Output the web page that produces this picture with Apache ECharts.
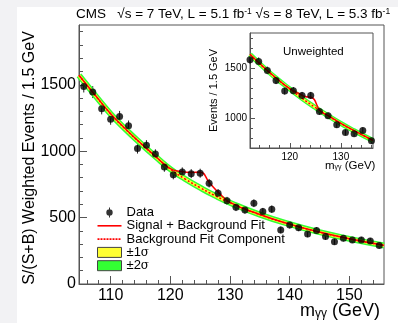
<!DOCTYPE html>
<html>
<head>
<meta charset="utf-8">
<script src="https://cdn.jsdelivr.net/npm/echarts@6/dist/echarts.min.js"></script>
<style>
  html, body { margin: 0; padding: 0; background: #f2f2f4; }
  #paper { position: absolute; left: 17px; top: 7px; right: 0; bottom: 0; background: #fff; }
  #chart { position: absolute; left: 0; top: 0; width: 398px; height: 323px; }
</style>
</head>
<body>
<div id="paper"></div>
<div id="chart"></div>
<script>
// main plot: S/(S+B) weighted data, 1.5 GeV bins
const mainMass = [105.5, 107, 108.5, 110, 111.5, 113, 114.5, 116, 117.5, 119, 120.5, 122, 123.5, 125, 126.5, 128, 129.5,
  131, 132.5, 134, 135.5, 137, 138.5, 140, 141.5, 143, 144.5, 146, 147.5, 149, 150.5, 152, 153.5, 155];
const mainEvents = [1487, 1445, 1319, 1241, 1261, 1191, 1020, 1045, 978, 880, 822, 844, 831, 834, 759, 684, 626,
  578, 558, 608, 545, 563, 407, 445, 424, 377, 402, 357, 319, 344, 332, 332, 324, 289];
const mainErr = [45, 45, 42, 42, 42, 40, 38, 38, 36, 35, 34, 34, 34, 34, 32, 31, 30,
  29, 29, 29, 28, 28, 26, 27, 26, 25, 25, 24, 23, 23, 23, 23, 23, 22];

// fit curves
const bgMass = [104.7, 107.5, 110, 112.5, 115, 117.5, 120, 122.5, 125, 127.5, 130, 135, 140, 145, 150, 155.8];
const bgFit = [1570, 1415, 1280, 1165, 1060, 960, 865, 790, 725, 665, 612, 522, 450, 390, 340, 290];
const sbMass = [104.7, 107.5, 110, 112.5, 115, 117.5, 120, 121.8, 123.5, 125, 126.6, 128.1, 130, 135, 140, 145, 150, 155.8];
const sbFit = [1572, 1417, 1282, 1167, 1062, 962, 868, 847, 840, 842, 760, 688, 614, 523, 451, 391, 341, 291];

// inset: unweighted
const insetMass = [112.2, 113.9, 115.6, 117.3, 119.0, 120.7, 122.4, 124.1, 125.8, 127.5, 129.2, 130.9, 132.6, 134.3, 136.0];
const insetEvents = [1583, 1566, 1476, 1376, 1270, 1273, 1226, 1226, 1066, 1023, 933, 856, 843, 876, 773];
const insetErr = [40, 40, 38, 37, 36, 36, 35, 35, 33, 32, 31, 29, 29, 30, 28];
const insetBgMass = [112.2, 115, 117.5, 120, 122.5, 125, 127.5, 130, 132.5, 136.3];
const insetBgFit = [1635, 1500, 1390, 1290, 1193, 1105, 1022, 945, 875, 775];
const insetSbMass = [112.2, 115, 117.5, 120, 121.8, 123, 124.3, 126, 127.6, 130, 132.5, 136.3];
const insetSbFit = [1638, 1503, 1393, 1293, 1245, 1215, 1205, 1068, 1022, 947, 877, 777];

// ticks
const xMajor = [110, 120, 130, 140, 150];
const xMinor = [106, 108, 112, 114, 116, 118, 122, 124, 126, 128, 132, 134, 136, 138, 142, 144, 146, 148, 152, 154];
const yMajor = [0, 500, 1000, 1500];
const yMinor = [100, 200, 300, 400, 600, 700, 800, 900, 1100, 1200, 1300, 1400, 1600, 1700, 1800, 1900];
const insetXMajor = [120, 130];
const insetXMinor = [114, 116, 118, 122, 124, 126, 128, 132, 134, 136];
const insetYMajor = [1000, 1500];
const insetYMinor = [800, 900, 1100, 1200, 1300, 1400, 1600, 1700, 1800];

const FONT = 'Liberation Sans';
const pairs = (xs, ys) => xs.map((x, i) => [x, ys[i]]);
const triples = (xs, ys, es) => xs.map((x, i) => [x, ys[i], es[i]]);
const plain = (v) => String(v);

const chart = echarts.init(document.getElementById('chart'));

const errBar = (params, api) => {
  const x = api.value(0), y = api.value(1), e = api.value(2);
  const top = api.coord([x, y + e]);
  const bot = api.coord([x, y - e]);
  return {
    type: 'line',
    shape: { x1: top[0], y1: top[1], x2: bot[0], y2: bot[1] },
    style: { stroke: '#222', lineWidth: 1 }
  };
};

const majorX = (grid, min, max, vals, size, len) => ({
  type: 'value', gridIndex: grid, min: min, max: max, position: 'bottom',
  axisLine: { show: true, lineStyle: { color: '#555' } },
  splitLine: { show: false },
  axisTick: { show: true, inside: true, length: len, customValues: vals, lineStyle: { color: '#555' } },
  axisLabel: { customValues: vals, formatter: plain, color: '#000', fontFamily: FONT, fontSize: size, margin: 4 }
});
const minorX = (grid, min, max, vals, len) => ({
  type: 'value', gridIndex: grid, min: min, max: max, position: 'bottom',
  axisLine: { show: false }, splitLine: { show: false }, axisLabel: { show: false },
  axisTick: { show: true, inside: true, length: len, customValues: vals, lineStyle: { color: '#555' } }
});
const majorY = (grid, min, max, vals, size, len) => ({
  type: 'value', gridIndex: grid, min: min, max: max, position: 'left',
  axisLine: { show: true, lineStyle: { color: '#555' } },
  splitLine: { show: false },
  axisTick: { show: true, inside: true, length: len, customValues: vals, lineStyle: { color: '#555' } },
  axisLabel: { customValues: vals, formatter: plain, color: '#000', fontFamily: FONT, fontSize: size, margin: 3 }
});
const minorY = (grid, min, max, vals, len) => ({
  type: 'value', gridIndex: grid, min: min, max: max, position: 'left',
  axisLine: { show: false }, splitLine: { show: false }, axisLabel: { show: false },
  axisTick: { show: true, inside: true, length: len, customValues: vals, lineStyle: { color: '#555' } }
});

const y2 = majorY(1, 700, 1850, insetYMajor, 10, 5);
y2.name = 'Events / 1.5 GeV';
y2.nameLocation = 'middle';
y2.nameGap = 31;
y2.nameTextStyle = { fontFamily: FONT, fontSize: 11, color: '#000' };

const line = (name, xs, ys, grid, color, width, type) => ({
  name: name, type: 'line', xAxisIndex: grid, yAxisIndex: grid,
  data: pairs(xs, ys), smooth: true, symbol: 'none', silent: true,
  lineStyle: { color: color, width: width, type: type || 'solid' }
});

const ICON_BOX = 'M0,0 M24,10 ';
const option = {
  animation: false,
  grid: [
    { left: 79, top: 25, width: 305, height: 259, show: true, borderColor: '#555', borderWidth: 1, backgroundColor: 'transparent', outerBoundsMode: 'none' },
    { left: 250, top: 33, width: 123, height: 115, show: true, borderColor: '#555', borderWidth: 1, backgroundColor: '#fff', outerBoundsMode: 'none' }
  ],
  xAxis: [
    majorX(0, 104.7, 155.8, xMajor, 16, 8),
    minorX(0, 104.7, 155.8, xMinor, 4),
    majorX(1, 112.2, 136.3, insetXMajor, 10, 5),
    minorX(1, 112.2, 136.3, insetXMinor, 3)
  ],
  yAxis: [
    majorY(0, 0, 1950, yMajor, 16, 8),
    minorY(0, 0, 1950, yMinor, 4),
    y2,
    minorY(1, 700, 1850, insetYMinor, 3)
  ],
  legend: {
    orient: 'vertical', left: 92, top: 201, itemWidth: 24, itemHeight: 10, itemGap: 0.3,
    selectedMode: false,
    textStyle: { fontFamily: FONT, fontSize: 13, color: '#000', lineHeight: 13,
      rich: { s: { fontFamily: 'DejaVu Serif', fontSize: 12, lineHeight: 13 } } },
    formatter: (name) => name.replace('σ', '{s|σ}'),
    data: [
      { name: 'Data', icon: 'path://' + ICON_BOX + 'M11.5,0 L12.5,0 L12.5,10 L11.5,10 Z M15.2,5 A3.2,3.2 0 1 1 8.8,5 A3.2,3.2 0 1 1 15.2,5 Z',
        itemStyle: { color: '#000', borderWidth: 0 } },
      { name: 'Signal + Background Fit', icon: 'path://' + ICON_BOX + 'M0,4.2 L24,4.2 L24,5.8 L0,5.8 Z',
        itemStyle: { color: '#ff0000', borderWidth: 0 } },
      { name: 'Background Fit Component', icon: 'path://' + ICON_BOX +
        'M0,4.2 L2,4.2 L2,5.8 L0,5.8 Z M3,4.2 L5,4.2 L5,5.8 L3,5.8 Z M6,4.2 L8,4.2 L8,5.8 L6,5.8 Z M9,4.2 L11,4.2 L11,5.8 L9,5.8 Z ' +
        'M12,4.2 L14,4.2 L14,5.8 L12,5.8 Z M15,4.2 L17,4.2 L17,5.8 L15,5.8 Z M18,4.2 L20,4.2 L20,5.8 L18,5.8 Z M21,4.2 L23,4.2 L23,5.8 L21,5.8 Z',
        itemStyle: { color: '#ff0000', borderWidth: 0 } },
      { name: '±1σ', icon: 'rect', itemStyle: { color: '#ffff33', borderColor: '#444', borderWidth: 1 } },
      { name: '±2σ', icon: 'rect', itemStyle: { color: '#33ff33', borderColor: '#444', borderWidth: 1 } }
    ]
  },
  graphic: [
    { type: 'text', left: 76, top: 7, silent: true, style: {
      text: '{t|CMS   √s = 7 TeV, L = 5.1 fb}{s|-1}{t| √s = 8 TeV, L = 5.3 fb}{s|-1}',
      rich: { t: { fontFamily: FONT, fontSize: 13.5, lineHeight: 14, verticalAlign: 'bottom', fill: '#000' },
              s: { fontFamily: FONT, fontSize: 8.5, lineHeight: 8, verticalAlign: 'top', fill: '#000' } } } },
    { type: 'text', x: 30, y: 158, rotation: Math.PI / 2, silent: true, style: {
      text: 'S/(S+B) Weighted Events / 1.5 GeV', fontFamily: FONT, fontSize: 16, fill: '#000',
      align: 'center', verticalAlign: 'middle' } },
    { type: 'text', left: 300, top: 302, silent: true, style: {
      text: '{m|m}{g|γγ}{m| (GeV)}',
      rich: { m: { fontFamily: FONT, fontSize: 18, lineHeight: 18, verticalAlign: 'top', fill: '#000' },
              g: { fontFamily: FONT, fontSize: 12, lineHeight: 12, verticalAlign: 'bottom', fill: '#000' } } } },
    { type: 'text', left: 325, top: 160, silent: true, style: {
      text: '{m|m}{g|γγ}{m| (GeV)}',
      rich: { m: { fontFamily: FONT, fontSize: 11.5, lineHeight: 11, verticalAlign: 'top', fill: '#000' },
              g: { fontFamily: FONT, fontSize: 7, lineHeight: 7, verticalAlign: 'bottom', fill: '#000' } } } },
    { type: 'text', left: 283, top: 46, silent: true, style: {
      text: 'Unweighted', fontFamily: FONT, fontSize: 11.5, fill: '#000' } }
  ],
  series: [
    line('±2σ', bgMass, bgFit, 0, '#33ff33', 6),
    line('±1σ', bgMass, bgFit, 0, '#ffff33', 3),
    line('Background Fit Component', bgMass, bgFit, 0, '#ff0000', 1.5, [2, 2]),
    line('Signal + Background Fit', sbMass, sbFit, 0, '#ff0000', 1.5),
    { name: 'mainErr', type: 'custom', xAxisIndex: 0, yAxisIndex: 0, silent: true,
      renderItem: errBar, data: triples(mainMass, mainEvents, mainErr), z: 3 },
    { name: 'Data', type: 'scatter', xAxisIndex: 0, yAxisIndex: 0, silent: true,
      data: pairs(mainMass, mainEvents), symbolSize: 7, itemStyle: { color: '#000' }, z: 4 },

    line('inset ±2σ', insetBgMass, insetBgFit, 2, '#33ff33', 5),
    line('inset ±1σ', insetBgMass, insetBgFit, 2, '#ffff33', 2.5),
    line('inset bg', insetBgMass, insetBgFit, 2, '#ff0000', 1.5, [2, 2]),
    line('inset s+b', insetSbMass, insetSbFit, 2, '#ff0000', 1.5),
    { name: 'insetErr', type: 'custom', xAxisIndex: 2, yAxisIndex: 2, silent: true,
      renderItem: errBar, data: triples(insetMass, insetEvents, insetErr), z: 3 },
    { name: 'insetData', type: 'scatter', xAxisIndex: 2, yAxisIndex: 2, silent: true,
      data: pairs(insetMass, insetEvents), symbolSize: 7, itemStyle: { color: '#000' }, z: 4, clip: false }
  ]
};
chart.setOption(option);
</script>
</body>
</html>
